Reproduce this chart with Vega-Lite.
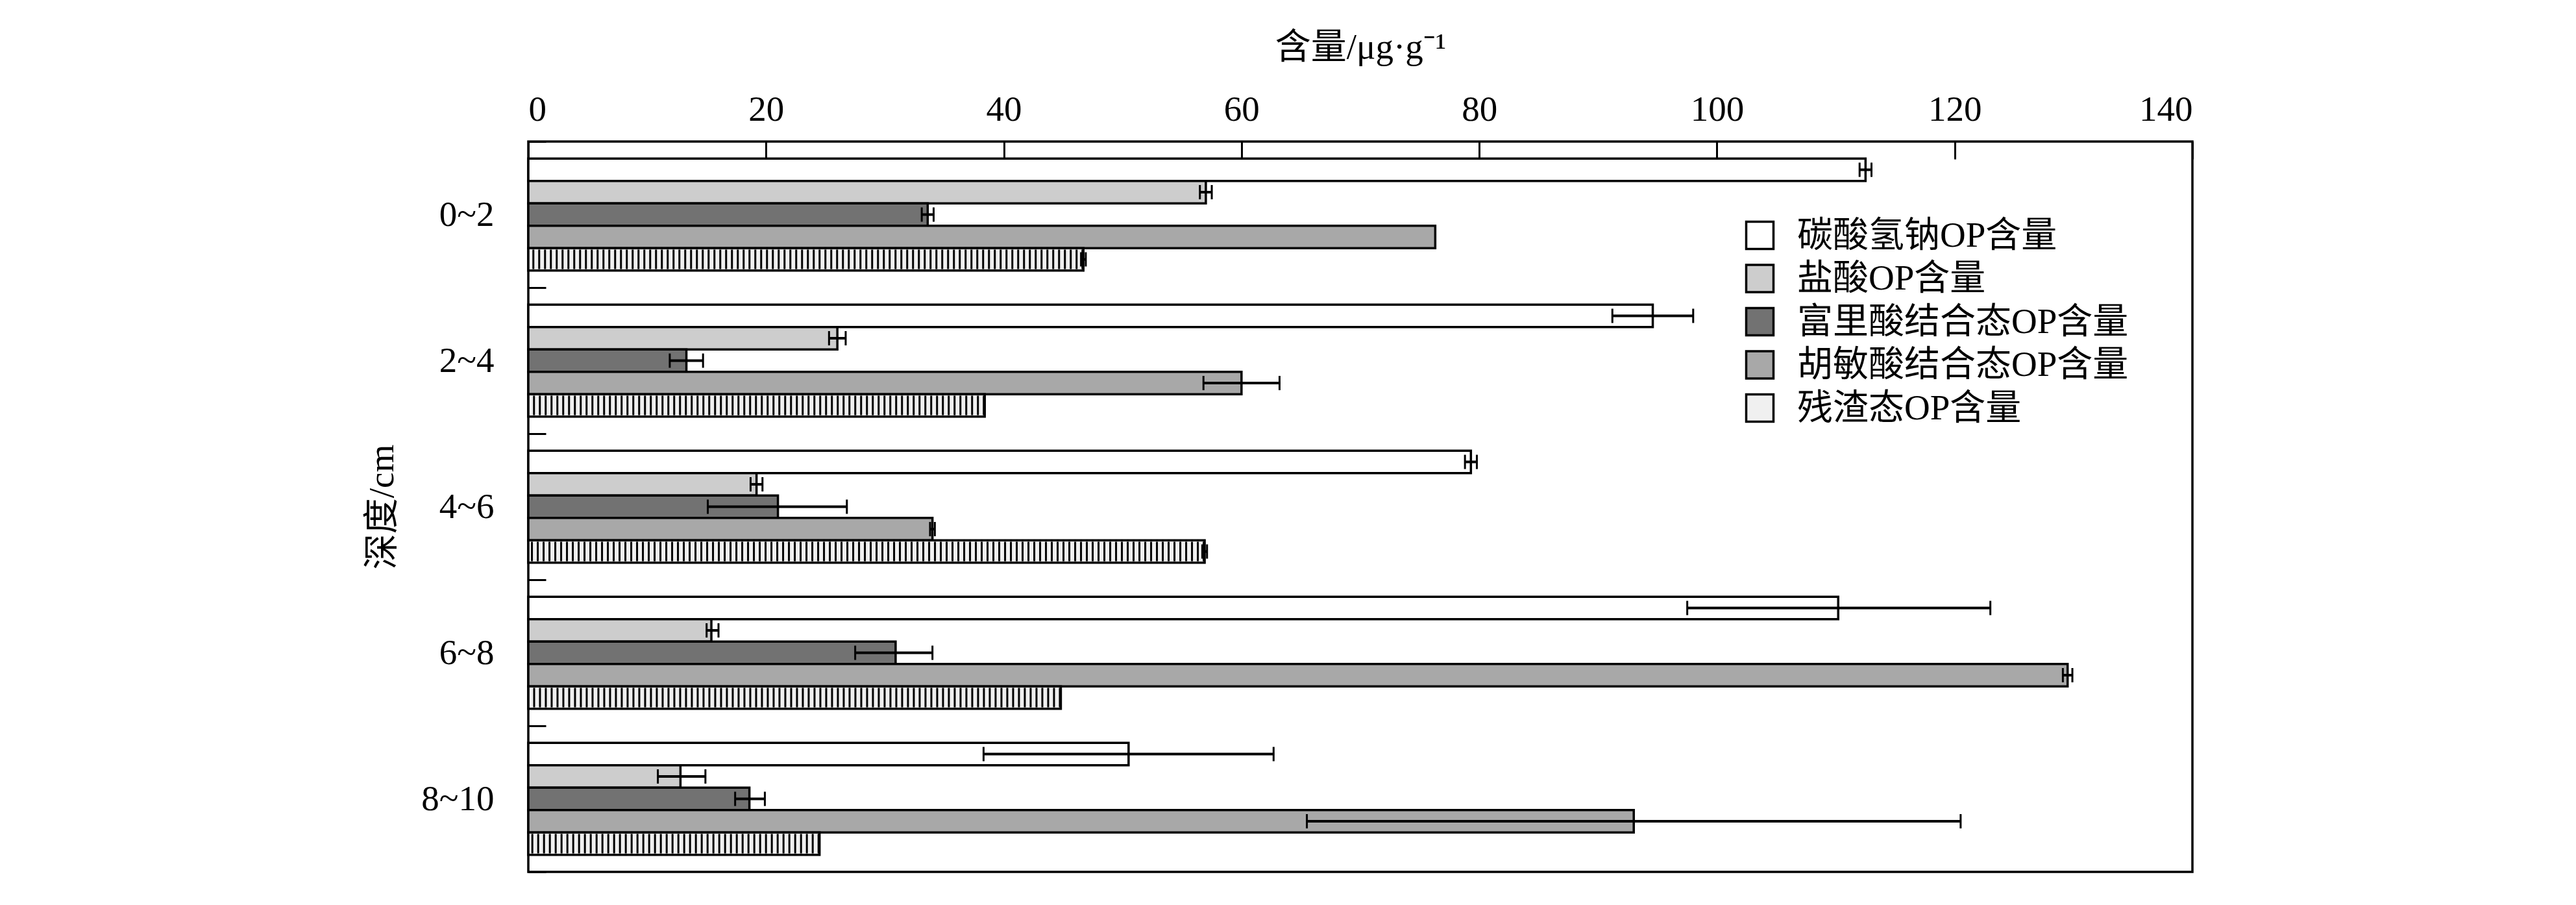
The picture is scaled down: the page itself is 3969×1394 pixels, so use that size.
{
  "$schema": "https://vega.github.io/schema/vega-lite/v6.json",
  "width": 2564,
  "height": 1125,
  "autosize": {"type": "none"},
  "padding": {"left": 814, "top": 218, "right": 591, "bottom": 51},
  "background": "white",
  "config": {
    "view": {"stroke": "black", "strokeWidth": 3.5},
    "font": "Liberation Serif, Noto Sans CJK SC",
    "axis": {
      "domain": false,
      "grid": false,
      "tickColor": "black",
      "tickWidth": 3,
      "labelColor": "black",
      "titleColor": "black",
      "labelFont": "Liberation Serif, Noto Sans CJK SC",
      "titleFont": "Liberation Serif, Noto Sans CJK SC",
      "labelFontSize": 55,
      "titleFontSize": 55,
      "titleFontWeight": "normal"
    }
  },
  "data": {
    "values": [
      {"depth": "0~2", "series": "碳酸氢钠OP含量", "value": 112.5, "lo": 112.0, "hi": 113.0},
      {"depth": "0~2", "series": "盐酸OP含量", "value": 57.0, "lo": 56.5, "hi": 57.5},
      {"depth": "0~2", "series": "富里酸结合态OP含量", "value": 33.6, "lo": 33.1, "hi": 34.1},
      {"depth": "0~2", "series": "胡敏酸结合态OP含量", "value": 76.3, "lo": null, "hi": null},
      {"depth": "0~2", "series": "残渣态OP含量", "value": 46.7, "lo": 46.5, "hi": 46.9},
      {"depth": "2~4", "series": "碳酸氢钠OP含量", "value": 94.6, "lo": 91.2, "hi": 98.0},
      {"depth": "2~4", "series": "盐酸OP含量", "value": 26.0, "lo": 25.3, "hi": 26.7},
      {"depth": "2~4", "series": "富里酸结合态OP含量", "value": 13.3, "lo": 11.9, "hi": 14.7},
      {"depth": "2~4", "series": "胡敏酸结合态OP含量", "value": 60.0, "lo": 56.8, "hi": 63.2},
      {"depth": "2~4", "series": "残渣态OP含量", "value": 38.4, "lo": null, "hi": null},
      {"depth": "4~6", "series": "碳酸氢钠OP含量", "value": 79.3, "lo": 78.8, "hi": 79.8},
      {"depth": "4~6", "series": "盐酸OP含量", "value": 19.2, "lo": 18.7, "hi": 19.7},
      {"depth": "4~6", "series": "富里酸结合态OP含量", "value": 21.0, "lo": 15.1, "hi": 26.8},
      {"depth": "4~6", "series": "胡敏酸结合态OP含量", "value": 34.0, "lo": 33.8, "hi": 34.2},
      {"depth": "4~6", "series": "残渣态OP含量", "value": 56.9, "lo": 56.7, "hi": 57.1},
      {"depth": "6~8", "series": "碳酸氢钠OP含量", "value": 110.2, "lo": 97.5, "hi": 123.0},
      {"depth": "6~8", "series": "盐酸OP含量", "value": 15.4, "lo": 15.0, "hi": 16.0},
      {"depth": "6~8", "series": "富里酸结合态OP含量", "value": 30.9, "lo": 27.5, "hi": 34.0},
      {"depth": "6~8", "series": "胡敏酸结合态OP含量", "value": 129.5, "lo": 129.1, "hi": 129.9},
      {"depth": "6~8", "series": "残渣态OP含量", "value": 44.8, "lo": null, "hi": null},
      {"depth": "8~10", "series": "碳酸氢钠OP含量", "value": 50.5, "lo": 38.3, "hi": 62.7},
      {"depth": "8~10", "series": "盐酸OP含量", "value": 12.8, "lo": 10.9, "hi": 14.9},
      {"depth": "8~10", "series": "富里酸结合态OP含量", "value": 18.6, "lo": 17.4, "hi": 19.9},
      {"depth": "8~10", "series": "胡敏酸结合态OP含量", "value": 93.0, "lo": 65.5, "hi": 120.5},
      {"depth": "8~10", "series": "残渣态OP含量", "value": 24.5, "lo": null, "hi": null}
    ]
  },
  "encoding": {
    "y": {
      "field": "depth",
      "type": "nominal",
      "sort": ["0~2", "2~4", "4~6", "6~8", "8~10"],
      "scale": {"paddingInner": 0, "paddingOuter": 0},
      "axis": {
        "orient": "left",
        "title": "深度/cm",
        "tickBand": "extent",
        "tickSize": -27,
        "labelPadding": 80,
        "titlePadding": 31
      }
    },
    "yOffset": {
      "field": "series",
      "type": "nominal",
      "sort": ["碳酸氢钠OP含量", "盐酸OP含量", "富里酸结合态OP含量", "胡敏酸结合态OP含量", "残渣态OP含量"],
      "scale": {"paddingInner": 0, "paddingOuter": 0.76}
    }
  },
  "layer": [
    {
      "mark": {"type": "bar", "stroke": "black", "strokeWidth": 3.5},
      "encoding": {
        "x": {
          "field": "value",
          "type": "quantitative",
          "scale": {"domain": [0, 140], "nice": false},
          "axis": {
            "orient": "top",
            "title": "含量/μg·g⁻¹",
            "values": [0, 20, 40, 60, 80, 100, 120, 140],
            "tickSize": -27,
            "labelPadding": 48,
            "titlePadding": 40
          }
        },
        "fill": {
          "field": "series",
          "type": "nominal",
          "sort": ["碳酸氢钠OP含量", "盐酸OP含量", "富里酸结合态OP含量", "胡敏酸结合态OP含量", "残渣态OP含量"],
          "scale": {"range": ["#ffffff", "#cdcdcd", "#727272", "#a8a8a8", "#f0f0f0"]},
          "legend": {
            "title": null,
            "orient": "none",
            "legendX": 1870,
            "legendY": 117,
            "symbolType": "square",
            "symbolSize": 1764,
            "symbolStrokeColor": "black",
            "symbolStrokeWidth": 3.5,
            "labelFont": "Liberation Serif, Noto Sans CJK SC",
            "labelFontSize": 55,
            "labelColor": "black",
            "labelLimit": 1000,
            "labelOffset": 30,
            "rowPadding": 9.5
          }
        }
      }
    },
    {
      "transform": [{"filter": "datum.series === '残渣态OP含量'"}],
      "mark": {"type": "rule", "color": "black", "strokeWidth": 30, "strokeDash": [3, 6]},
      "encoding": {
        "x": {"field": "value", "type": "quantitative"},
        "x2": {"datum": 0}
      }
    },
    {
      "transform": [{"filter": {"field": "lo", "valid": true}}],
      "mark": {"type": "rule", "color": "black", "strokeWidth": 4},
      "encoding": {
        "x": {"field": "lo", "type": "quantitative"},
        "x2": {"field": "hi"}
      }
    },
    {
      "transform": [{"filter": {"field": "lo", "valid": true}}],
      "mark": {"type": "bar", "fill": "black", "stroke": "black", "strokeWidth": 3, "size": 22},
      "encoding": {
        "x": {"field": "lo", "type": "quantitative"},
        "x2": {"field": "lo"}
      }
    },
    {
      "transform": [{"filter": {"field": "lo", "valid": true}}],
      "mark": {"type": "bar", "fill": "black", "stroke": "black", "strokeWidth": 3, "size": 22},
      "encoding": {
        "x": {"field": "hi", "type": "quantitative"},
        "x2": {"field": "hi"}
      }
    }
  ]
}
